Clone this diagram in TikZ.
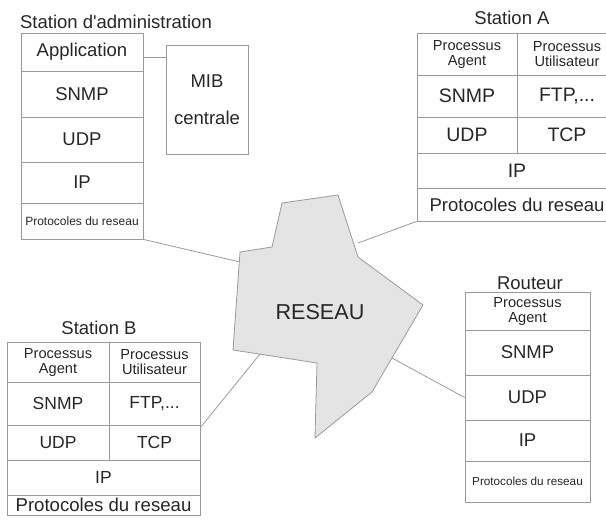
\documentclass[tikz,border=0pt]{standalone}
\usepackage{fontspec}
\setmainfont{Liberation Sans}
% a family without the TeX quote mapping, so ' stays a straight apostrophe
\newfontfamily\plainsans{Liberation Sans}
\usetikzlibrary{calc}
\definecolor{linegray}{HTML}{9A9A9A}
\definecolor{ink}{HTML}{262626}
\definecolor{netfill}{HTML}{E4E4E4}
\begin{document}
\begin{tikzpicture}[x=1pt,y=-1pt,line width=0.8pt,
  cell/.style={draw=linegray,inner sep=0pt,align=center,text=ink,
               font=\fontsize{18.5}{22}\selectfont},
  proc/.style={font=\fontsize{14.6}{15}\selectfont},
  title/.style={inner sep=0pt,text=ink,font=\fontsize{18.5}{22}\selectfont},
  link/.style={draw=linegray,line width=0.8pt}]
\useasboundingbox (0,0) rectangle (606,525);
\clip (0,0) rectangle (606,525);

% Station d'administration
\node[title,font=\plainsans\fontsize{18.5}{22}\selectfont] (t-adm) at (116,22) {Station d'administration};
\node[cell,minimum width=122pt,minimum height=38pt] (adm-app)  at (82,52)    {Application};
\node[cell,minimum width=122pt,minimum height=46pt] (adm-snmp) at (82,94)    {SNMP};
\node[cell,minimum width=122pt,minimum height=45pt] (adm-udp)  at (82,139.5) {UDP};
\node[cell,minimum width=122pt,minimum height=41pt] (adm-ip)   at (82,182.5) {IP};
\node[cell,minimum width=122pt,minimum height=36pt,font=\fontsize{12}{14}\selectfont]
      (adm-net)  at (82,221) {Protocoles du reseau};
\node[cell,minimum width=82pt,minimum height=109pt] (mib) at (207,99.5) {MIB\\[15pt]centrale};
\draw[link] (adm-app.east) ++(0,5) coordinate (app-out) -- (app-out -| mib.west);

% Station A
\node[title] (t-a) at (512,18) {Station A};
\node[cell,proc,minimum width=100pt,minimum height=42pt] (sa-agent) at (467,54) {Processus\\Agent};
\node[cell,proc,minimum width=100pt,minimum height=42pt] (sa-user)  at (567,54) {Processus\\Utilisateur};
\node[cell,font=\fontsize{19.5}{22}\selectfont,minimum width=100pt,minimum height=42pt] (sa-snmp) at (467,96) {SNMP};
\node[cell,font=\fontsize{19.5}{22}\selectfont,minimum width=100pt,minimum height=42pt] (sa-ftp)  at (567,96) {FTP,...};
\node[cell,font=\fontsize{19.5}{22}\selectfont,minimum width=100pt,minimum height=36pt] (sa-udp)  at (467,135) {UDP};
\node[cell,font=\fontsize{19.5}{22}\selectfont,minimum width=100pt,minimum height=36pt] (sa-tcp)  at (567,135) {TCP};
\node[cell,font=\fontsize{19.5}{22}\selectfont,minimum width=200pt,minimum height=35pt] (sa-ip)   at (517,170.5) {IP};
\node[cell,font=\fontsize{18.5}{22}\selectfont,minimum width=200pt,minimum height=33pt] (sa-net)  at (517,204.5) {Protocoles du reseau};

% Station B
\node[title] (t-b) at (99,328) {Station B};
\node[cell,proc,minimum width=102pt,minimum height=40pt] (sb-agent) at (58,362)    {Processus\\Agent};
\node[cell,proc,minimum width=91pt,minimum height=40pt]  (sb-user)  at (154.5,362) {Processus\\Utilisateur};
\node[cell,font=\fontsize{17.5}{21}\selectfont,minimum width=102pt,minimum height=43pt] (sb-snmp) at (58,403.5)    {SNMP};
\node[cell,font=\fontsize{17.5}{21}\selectfont,minimum width=91pt,minimum height=43pt]  (sb-ftp)  at (154.5,403.5) {FTP,...};
\node[cell,font=\fontsize{17.5}{21}\selectfont,minimum width=102pt,minimum height=35pt] (sb-udp)  at (58,442.5)    {UDP};
\node[cell,font=\fontsize{17.5}{21}\selectfont,minimum width=91pt,minimum height=35pt]  (sb-tcp)  at (154.5,442.5) {TCP};
\node[cell,font=\fontsize{17.5}{21}\selectfont,minimum width=193pt,minimum height=35pt] (sb-ip)   at (103.5,477.5) {IP};
\node[cell,font=\fontsize{18.6}{21}\selectfont,minimum width=193pt,minimum height=20pt] (sb-net)  at (103.5,505)   {Protocoles du reseau};

% Routeur
\node[title] (t-rt) at (530,283) {Routeur};
\node[cell,proc,minimum width=125pt,minimum height=38pt] (rt-agent) at (527.5,311) {Processus\\Agent};
\node[cell,minimum width=125pt,minimum height=45pt] (rt-snmp) at (527.5,352.5) {SNMP};
\node[cell,minimum width=125pt,minimum height=45pt] (rt-udp)  at (527.5,397.5) {UDP};
\node[cell,minimum width=125pt,minimum height=41pt] (rt-ip)   at (527.5,440.5) {IP};
\node[cell,font=\fontsize{11.7}{14}\selectfont,minimum width=125pt,minimum height=41pt] (rt-net) at (527.5,481.5) {Protocoles du reseau};

% Network cloud and its attachment points
\coordinate (net-adm) at (240,262);
\coordinate (net-a)   at (358,243);
\coordinate (net-b)   at (260,354);
\coordinate (net-rt)  at (392,358);

\draw[link] (adm-net.south east) -- (net-adm);
\draw[link] (sa-net.south west) -- (net-a);
\draw[link] ([yshift=-3pt]sb-tcp.north east) -- (net-b);
\draw[link] (rt-udp.west) -- (net-rt);

\draw[draw=linegray,fill=netfill,line width=0.8pt]
  (282,203) -- (338,195) -- (358,257) -- (423,305) -- (372,392) -- (315,438)
  -- (317,363) -- (233,350) -- (240,252) -- (272,247) -- cycle;
\node[title,font=\fontsize{21.6}{24}\selectfont] (net) at (320,312) {RESEAU};
\end{tikzpicture}
\end{document}
